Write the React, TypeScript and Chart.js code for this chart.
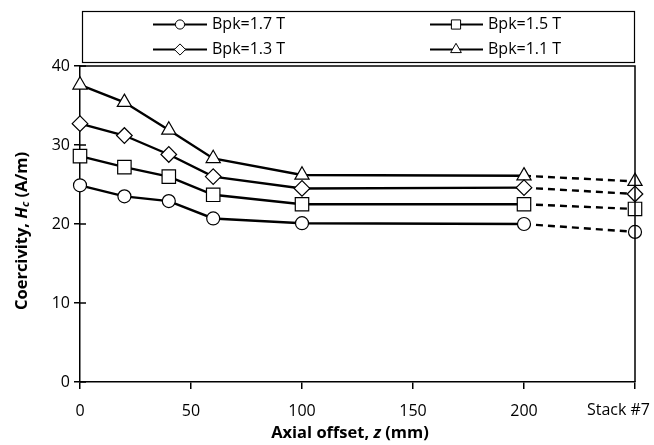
import React, { useEffect, useRef } from 'react';
import { Chart, registerables } from 'chart.js';

Chart.register(...registerables);

// ---- Data ----
const xValues = [0, 20, 40, 60, 100, 200, 250]; // 250 = "Stack #7"
const bpk17 = [24.9, 23.5, 22.9, 20.7, 20.1, 20.0, 19.0];
const bpk15 = [28.6, 27.2, 26.0, 23.7, 22.5, 22.5, 21.9];
const bpk13 = [32.7, 31.2, 28.8, 26.0, 24.5, 24.6, 23.8];
const bpk11 = [37.6, 35.4, 31.9, 28.3, 26.2, 26.1, 25.4];
const seriesLabels = ['Bpk=1.7 T', 'Bpk=1.5 T', 'Bpk=1.3 T', 'Bpk=1.1 T'];
const seriesStyles = ['circle', 'rect', 'rectRot', 'triangle'];
const xTickValues = [0, 50, 100, 150, 200, 250];
const xTickLabels = ['0', '50', '100', '150', '200', 'Stack #7'];
const yMin = 0;
const yMax = 40;
const yStep = 10;

const FONT = '"Open Sans", "Noto Sans", sans-serif';

function drawMarker(ctx: CanvasRenderingContext2D, style: string, x: number, y: number, r: number) {
  ctx.beginPath();
  if (style === 'circle') {
    ctx.arc(x, y, r, 0, Math.PI * 2);
  } else if (style === 'rect') {
    ctx.rect(x - r, y - r, 2 * r, 2 * r);
  } else if (style === 'rectRot') {
    ctx.moveTo(x, y - r);
    ctx.lineTo(x + r, y);
    ctx.lineTo(x, y + r);
    ctx.lineTo(x - r, y);
    ctx.closePath();
  } else {
    ctx.moveTo(x, y - r);
    ctx.lineTo(x + r * 0.866, y + r * 0.5);
    ctx.lineTo(x - r * 0.866, y + r * 0.5);
    ctx.closePath();
  }
  ctx.fillStyle = '#fff';
  ctx.fill();
  ctx.stroke();
}

type Seg = { t: string; font: string; dy?: number };

function drawSegments(ctx: CanvasRenderingContext2D, segs: Seg[], cx: number, cy: number) {
  let total = 0;
  for (const s of segs) {
    ctx.font = s.font;
    total += ctx.measureText(s.t).width;
  }
  let x = cx - total / 2;
  ctx.textAlign = 'left';
  ctx.textBaseline = 'middle';
  for (const s of segs) {
    ctx.font = s.font;
    ctx.fillText(s.t, x, cy + (s.dy || 0));
    x += ctx.measureText(s.t).width;
  }
}

const decorPlugin = {
  id: 'decor',
  afterDraw(chart: any) {
    const ctx: CanvasRenderingContext2D = chart.ctx;
    const { left, right, top, bottom } = chart.chartArea;
    const yScale = chart.scales.y;
    ctx.save();
    ctx.strokeStyle = '#000';
    ctx.fillStyle = '#000';

    // plot box (top and right)
    ctx.lineWidth = 1.5;
    ctx.beginPath();
    ctx.moveTo(left, top);
    ctx.lineTo(right, top);
    ctx.lineTo(right, bottom);
    ctx.stroke();

    // inner part of y ticks
    for (let v = yMin; v <= yMax; v += yStep) {
      const py = yScale.getPixelForValue(v);
      ctx.beginPath();
      ctx.moveTo(left, py);
      ctx.lineTo(left + 6, py);
      ctx.stroke();
    }

    // "Stack #7" label (kept inside canvas)
    ctx.font = `16px ${FONT}`;
    ctx.textAlign = 'right';
    ctx.textBaseline = 'middle';
    ctx.fillStyle = '#000';
    ctx.fillText(xTickLabels[xTickLabels.length - 1], chart.width - 4, bottom + 28);

    // axis titles
    drawSegments(ctx, [
      { t: 'Axial offset, ', font: `bold 16.5px ${FONT}` },
      { t: 'z', font: `italic bold 16.5px ${FONT}` },
      { t: ' (mm)', font: `bold 16.5px ${FONT}` },
    ], 350, 433);

    ctx.save();
    ctx.translate(22, 231);
    ctx.rotate(-Math.PI / 2);
    drawSegments(ctx, [
      { t: 'Coercivity, ', font: `bold 16.5px ${FONT}` },
      { t: 'H', font: `italic bold 16.5px ${FONT}` },
      { t: 'c', font: `italic bold 11px ${FONT}`, dy: 4 },
      { t: ' (A/m)', font: `bold 16.5px ${FONT}` },
    ], 0, 0);
    ctx.restore();

    // legend
    ctx.lineWidth = 1.2;
    ctx.strokeRect(82.5, 11.5, 552, 51);
    const cols = [{ l: 153, r: 207, m: 180, t: 212 }, { l: 430, r: 483, m: 456, t: 488 }];
    const rows = [24.5, 49.5];
    const lr = [4.6, 4.6, 5.6, 6.2];
    for (let i = 0; i < seriesLabels.length; i++) {
      const c = cols[i % 2];
      const y = rows[Math.floor(i / 2)];
      ctx.lineWidth = 2.2;
      ctx.beginPath();
      ctx.moveTo(c.l, y);
      ctx.lineTo(c.r, y);
      ctx.stroke();
      ctx.lineWidth = 1;
      drawMarker(ctx, seriesStyles[i], c.m, y, lr[i]);
      ctx.fillStyle = '#000';
      ctx.font = `16px ${FONT}`;
      ctx.textAlign = 'left';
      ctx.textBaseline = 'middle';
      ctx.fillText(seriesLabels[i], c.t, y);
    }
    ctx.restore();
  },
};

export default function App() {
  const ref = useRef<HTMLCanvasElement | null>(null);
  useEffect(() => {
    if (!ref.current) return;
    const series = [bpk17, bpk15, bpk13, bpk11];
    const radii = [6.5, 9.5, 7.8, 8.2];
    const datasets = series.map((vals, i) => ({
      label: seriesLabels[i],
      data: vals.map((v, j) => ({ x: xValues[j], y: v })),
      borderColor: '#000',
      backgroundColor: '#fff',
      borderWidth: 2.4,
      pointStyle: seriesStyles[i] as any,
      pointRadius: radii[i],
      pointBorderWidth: 1.2,
      pointBorderColor: '#000',
      pointBackgroundColor: '#fff',
      tension: 0,
      clip: false as any,
      segment: {
        borderDash: (c: any) => (c.p0DataIndex === xValues.length - 2 ? [7, 5] : undefined),
      },
    }));
    const chart = new Chart(ref.current, {
      type: 'line',
      data: { datasets },
      options: {
        animation: false,
        responsive: false,
        maintainAspectRatio: false,
        devicePixelRatio: 1,
        layout: { padding: { top: 66, right: 19, left: 0, bottom: 0 } },
        plugins: { legend: { display: false }, tooltip: { enabled: false } },
        scales: {
          x: {
            type: 'linear',
            min: 0,
            max: 250,
            afterBuildTicks: (s: any) => {
              s.ticks = xTickValues.map((v) => ({ value: v }));
            },
            afterFit: (s: any) => {
              s.height = 63;
              s.paddingRight = 0;
            },
            ticks: {
              color: '#000',
              font: { family: FONT, size: 16 },
              padding: 13,
              maxRotation: 0,
              autoSkip: false,
              callback: (v: any) => {
                const idx = xTickValues.indexOf(Number(v));
                if (idx === xTickValues.length - 1) return '';
                return idx >= 0 ? xTickLabels[idx] : '';
              },
            },
            grid: { drawOnChartArea: false, color: '#000', lineWidth: 1.5, tickLength: 7 },
            border: { display: true, color: '#000', width: 1.5 },
          },
          y: {
            min: yMin,
            max: yMax,
            afterFit: (s: any) => {
              s.width = 80;
            },
            ticks: {
              stepSize: yStep,
              color: '#000',
              font: { family: FONT, size: 16 },
              padding: 4,
            },
            grid: { drawOnChartArea: false, color: '#000', lineWidth: 1.5, tickLength: 6 },
            border: { display: true, color: '#000', width: 1.5 },
          },
        },
      },
      plugins: [decorPlugin],
    });
    return () => chart.destroy();
  }, []);
  return (
    <div style={{ position: 'absolute', left: 0, top: 0, width: 654, height: 445, background: '#fff' }}>
      <canvas ref={ref} width={654} height={445} style={{ display: 'block' }} />
    </div>
  );
}
